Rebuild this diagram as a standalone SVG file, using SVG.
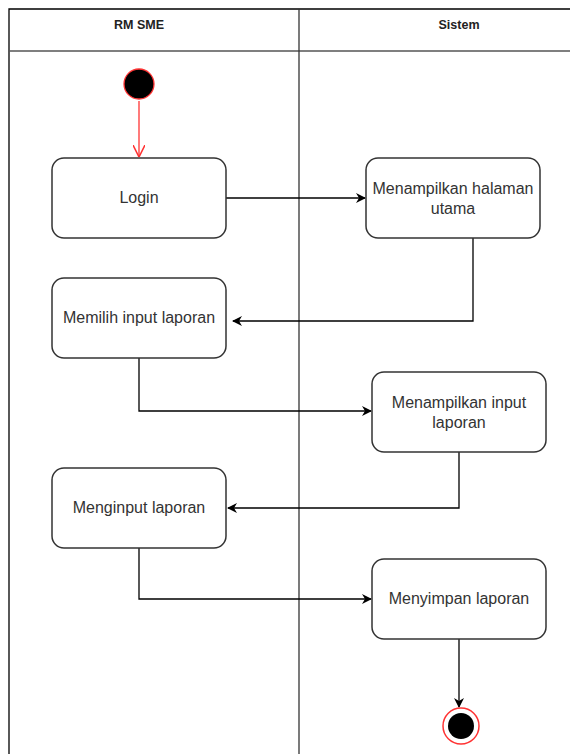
<svg xmlns="http://www.w3.org/2000/svg" width="570" height="754" viewBox="0 0 570 754">
<defs>
<style>
.lane{fill:none;stroke:#000;stroke-width:1.3}
.hdr{font-family:"Liberation Sans",Arial,sans-serif;font-size:12.5px;font-weight:bold;fill:#222;text-anchor:middle}
.box{fill:#fff;stroke:#333;stroke-width:1.5}
.t{font-family:"Liberation Sans",Arial,sans-serif;font-size:16px;fill:#333;text-anchor:middle}
.c{fill:none;stroke:#000;stroke-width:1.3}
</style>
<marker id="ah" viewBox="0 0 10 10" refX="9" refY="5" markerWidth="10" markerHeight="10" markerUnits="userSpaceOnUse" orient="auto">
<path d="M0,0 L10,5 L0,10 L3,5 Z" fill="#000"/>
</marker>
<marker id="ahr" viewBox="0 0 10 10" refX="10" refY="5" markerWidth="12" markerHeight="12" markerUnits="userSpaceOnUse" orient="auto">
<path d="M0,0 L10,5 L0,10" fill="none" stroke="#f33" stroke-width="1.3"/>
</marker>
</defs>
<rect width="570" height="754" fill="#fff"/>
<g id="pool">
<path class="lane" d="M9,754 V9 H571"/>
<path d="M9,51 H571" stroke="#555" stroke-width="1.5"/>
<path d="M299,9 V754" stroke="#333" stroke-width="1.3"/>
<text class="hdr" x="139" y="29">RM SME</text>
<text class="hdr" x="459" y="29">Sistem</text>
</g>
<g id="connectors">
<path d="M139,101 V157" stroke="#f33" stroke-width="1.3" fill="none" marker-end="url(#ahr)"/>
<path class="c" d="M226,198 H365" marker-end="url(#ah)"/>
<path class="c" d="M473,238 V321 H233" marker-end="url(#ah)"/>
<path class="c" d="M139,358 V411 H371" marker-end="url(#ah)"/>
<path class="c" d="M459,452 V508 H228" marker-end="url(#ah)"/>
<path class="c" d="M139,548 V599 H371" marker-end="url(#ah)"/>
<path class="c" d="M459,639 V707" marker-end="url(#ah)"/>
</g>
<g id="start">
<circle cx="139" cy="84" r="15" fill="#000" stroke="#f33" stroke-width="1.3"/>
</g>
<g id="login">
<rect class="box" x="52" y="158" width="174" height="80" rx="12"/>
<text class="t" x="139" y="203">Login</text>
</g>
<g id="halaman">
<rect class="box" x="366" y="158" width="174" height="80" rx="12"/>
<text class="t" x="453" y="194">Menampilkan halaman</text>
<text class="t" x="453" y="214">utama</text>
</g>
<g id="memilih">
<rect class="box" x="52" y="278" width="174" height="80" rx="12"/>
<text class="t" x="139" y="323">Memilih input laporan</text>
</g>
<g id="tampilinput">
<rect class="box" x="372" y="372" width="174" height="80" rx="12"/>
<text class="t" x="459" y="408">Menampilkan input</text>
<text class="t" x="459" y="428">laporan</text>
</g>
<g id="menginput">
<rect class="box" x="52" y="468" width="174" height="80" rx="12"/>
<text class="t" x="139" y="513">Menginput laporan</text>
</g>
<g id="menyimpan">
<rect class="box" x="372" y="559" width="174" height="80" rx="12"/>
<text class="t" x="459" y="604">Menyimpan laporan</text>
</g>
<g id="end">
<circle cx="461" cy="726" r="18" fill="#fff" stroke="#f33" stroke-width="1.5"/>
<circle cx="461" cy="726" r="13" fill="#000"/>
</g>
</svg>
